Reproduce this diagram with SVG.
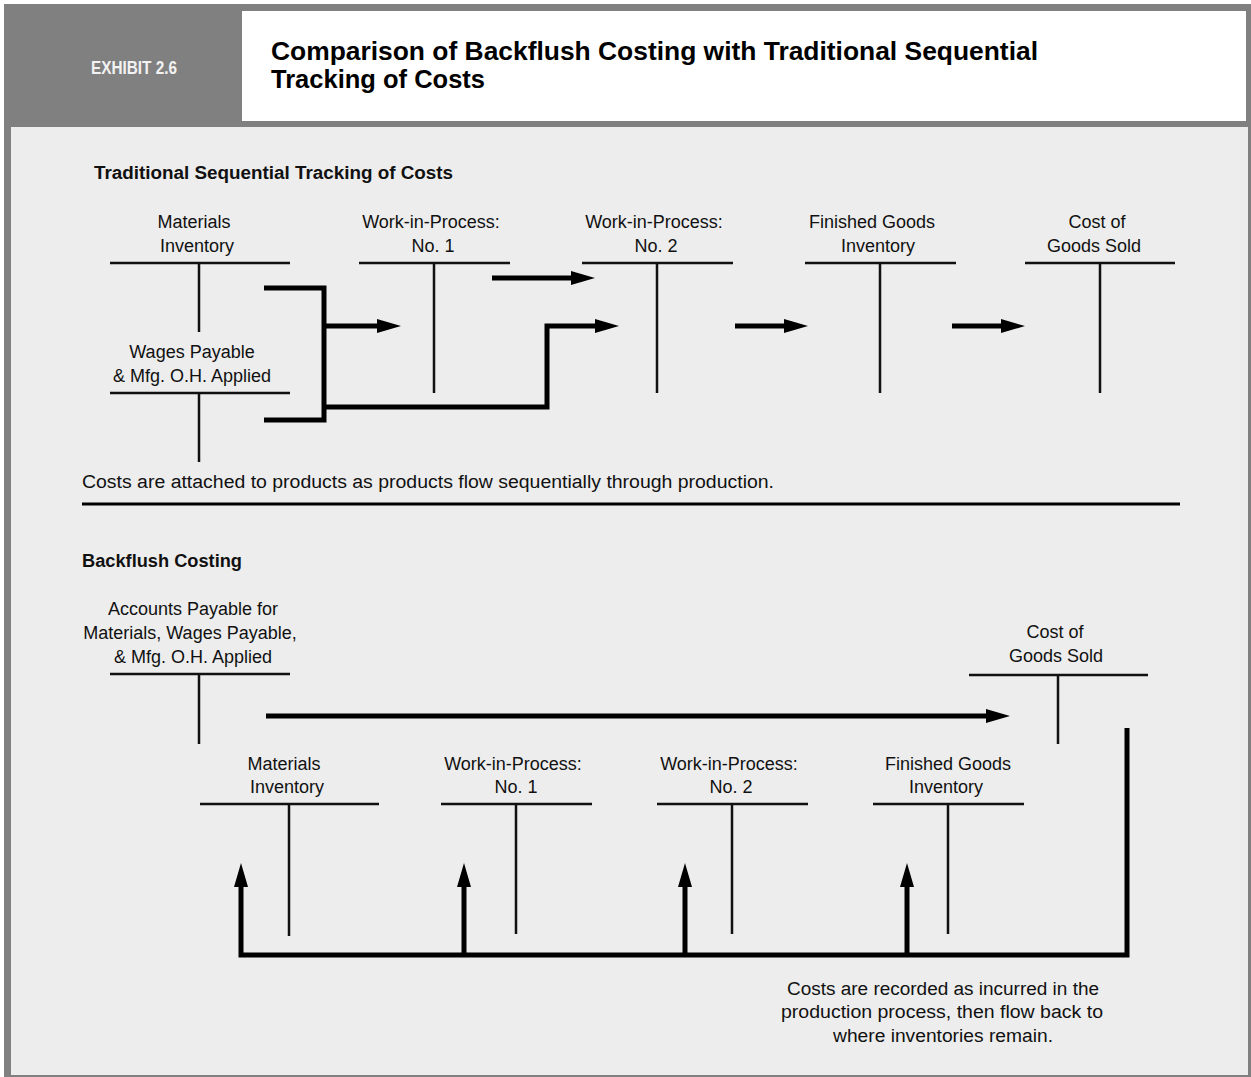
<svg xmlns="http://www.w3.org/2000/svg" width="1251" height="1077" viewBox="0 0 1251 1077">
<style>
text{font-family:"Liberation Sans",Arial,sans-serif;fill:#111}
.lbl{font-size:18px;text-anchor:middle}
.body{font-size:18px}
.bold{font-weight:bold;font-size:18px}
.title{font-weight:bold;font-size:26px;fill:#000}
.exh{font-weight:bold;font-size:18px;fill:#f2f2f2}
.t{stroke:#111;stroke-width:2.5;fill:none}
.c{stroke:#000;stroke-width:5;fill:none;stroke-linejoin:miter;stroke-linecap:butt}
</style>
<defs>
<marker id="ah" markerUnits="userSpaceOnUse" markerWidth="24" markerHeight="14" refX="4" refY="7" orient="auto" overflow="visible">
<path d="M0,0 L24,7 L0,14 z" fill="#000"/>
</marker>
</defs>
<rect x="0" y="0" width="1251" height="1077" fill="#ffffff"/>
<g id="frame">
<rect x="4" y="4" width="1247" height="1073" fill="#808080"/>
<rect x="11" y="127" width="1237" height="948" fill="#ededed"/>
<rect x="242" y="11" width="1004" height="110" fill="#ffffff"/>
<text class="exh" x="91" y="74" textLength="86" lengthAdjust="spacingAndGlyphs">EXHIBIT 2.6</text>
<text class="title" x="271" y="60" textLength="767" lengthAdjust="spacingAndGlyphs">Comparison of Backflush Costing with Traditional Sequential</text>
<text class="title" x="271" y="88" textLength="214" lengthAdjust="spacingAndGlyphs">Tracking of Costs</text>
</g>
<g id="top-section">
<text class="bold" x="94" y="179" textLength="359" lengthAdjust="spacingAndGlyphs">Traditional Sequential Tracking of Costs</text>
<g id="t-materials">
<text class="lbl" x="194" y="228">Materials</text>
<text class="lbl" x="197" y="252">Inventory</text>
<path class="t" d="M110,263 H290 M199,263 V332"/>
</g>
<g id="t-wages">
<text class="lbl" x="192" y="358">Wages Payable</text>
<text class="lbl" x="192" y="382">&amp; Mfg. O.H. Applied</text>
<path class="t" d="M110,393 H290 M199,393 V462"/>
</g>
<g id="t-wip1">
<text class="lbl" x="431" y="228">Work-in-Process:</text>
<text class="lbl" x="433" y="252">No. 1</text>
<path class="t" d="M359,263 H510 M434,263 V393"/>
</g>
<g id="t-wip2">
<text class="lbl" x="654" y="228">Work-in-Process:</text>
<text class="lbl" x="656" y="252">No. 2</text>
<path class="t" d="M582,263 H733 M657,263 V393"/>
</g>
<g id="t-fg">
<text class="lbl" x="872" y="228">Finished Goods</text>
<text class="lbl" x="878" y="252">Inventory</text>
<path class="t" d="M805,263 H956 M880,263 V393"/>
</g>
<g id="t-cogs">
<text class="lbl" x="1097" y="228">Cost of</text>
<text class="lbl" x="1094" y="252">Goods Sold</text>
<path class="t" d="M1025,263 H1175 M1100,263 V393"/>
</g>
<text class="body" x="82" y="488" textLength="692" lengthAdjust="spacingAndGlyphs">Costs are attached to products as products flow sequentially through production.</text>
<line x1="82" y1="504" x2="1180" y2="504" stroke="#000" stroke-width="3"/>
</g>
<g id="bottom-section">
<text class="bold" x="82" y="567" textLength="160" lengthAdjust="spacingAndGlyphs">Backflush Costing</text>
<g id="b-ap">
<text class="lbl" x="193" y="615">Accounts Payable for</text>
<text class="lbl" x="190" y="639">Materials, Wages Payable,</text>
<text class="lbl" x="193" y="663">&amp; Mfg. O.H. Applied</text>
<path class="t" d="M110,674 H290 M199,674 V744"/>
</g>
<g id="b-cogs">
<text class="lbl" x="1055" y="638">Cost of</text>
<text class="lbl" x="1056" y="662">Goods Sold</text>
<path class="t" d="M969,675 H1148 M1058,675 V744"/>
</g>
<g id="b-materials">
<text class="lbl" x="284" y="770">Materials</text>
<text class="lbl" x="287" y="793">Inventory</text>
<path class="t" d="M200,804 H379 M289,804 V936"/>
</g>
<g id="b-wip1">
<text class="lbl" x="513" y="770">Work-in-Process:</text>
<text class="lbl" x="516" y="793">No. 1</text>
<path class="t" d="M441,804 H592 M516,804 V934"/>
</g>
<g id="b-wip2">
<text class="lbl" x="729" y="770">Work-in-Process:</text>
<text class="lbl" x="731" y="793">No. 2</text>
<path class="t" d="M657,804 H808 M732,804 V934"/>
</g>
<g id="b-fg">
<text class="lbl" x="948" y="770">Finished Goods</text>
<text class="lbl" x="946" y="793">Inventory</text>
<path class="t" d="M873,804 H1024 M948,804 V934"/>
</g>
<g id="b-note">
<text class="lbl" x="943" y="995" textLength="312" lengthAdjust="spacingAndGlyphs">Costs are recorded as incurred in the</text>
<text class="lbl" x="942" y="1018" textLength="322" lengthAdjust="spacingAndGlyphs">production process, then flow back to</text>
<text class="lbl" x="943" y="1042" textLength="220" lengthAdjust="spacingAndGlyphs">where inventories remain.</text>
</g>
</g>
<g id="connectors">
<path class="c" d="M264,288 H324 V420 H264"/>
<path class="c" d="M324,326 H381" marker-end="url(#ah)"/>
<path class="c" d="M324,407 H547 V326 H599" marker-end="url(#ah)"/>
<path class="c" d="M492,278 H575" marker-end="url(#ah)"/>
<path class="c" d="M735,326 H788" marker-end="url(#ah)"/>
<path class="c" d="M952,326 H1005" marker-end="url(#ah)"/>
<path class="c" d="M266,716 H990" marker-end="url(#ah)"/>
<path class="c" d="M1127,728 V955 H241 V883" marker-end="url(#ah)"/>
<path class="c" d="M464,955 V883" marker-end="url(#ah)"/>
<path class="c" d="M685,955 V883" marker-end="url(#ah)"/>
<path class="c" d="M907,955 V883" marker-end="url(#ah)"/>
</g>
</svg>
